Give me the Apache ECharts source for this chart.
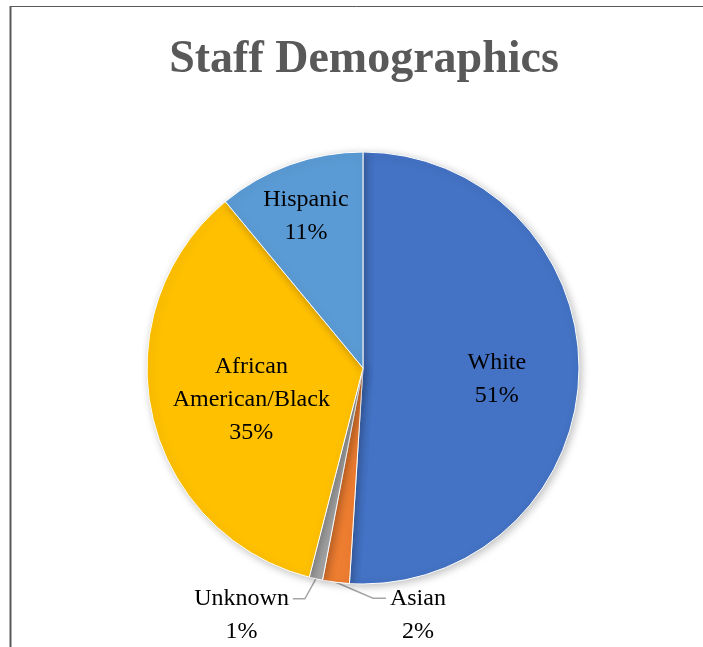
<!DOCTYPE html>
<html>
<head>
<meta charset="utf-8">
<script src="https://cdn.jsdelivr.net/npm/echarts@6/dist/echarts.min.js"></script>
<style>
  html, body { margin: 0; padding: 0; background: #fff; }
  #main { width: 703px; height: 647px; }
</style>
</head>
<body>
<div id="main"></div>
<script>
// chart data
const categories = ['White', 'Asian', 'Unknown', 'African American/Black', 'Hispanic']
const labelNames = ['White', 'Asian', 'Unknown', 'African\nAmerican/Black', 'Hispanic']
const values = [51, 2, 1, 35, 11]
const colors = ['#4472C4', '#ED7D31', '#A5A5A5', '#FFC000', '#5B9BD5']

// where each label sits: k = fraction of radius (inside), else leader line offsets (outside)
const labelPlace = [
  { k: 0.62 },
  { bend: [37, 16], h: 13 },
  { bend: [-11, 20], h: -12 },
  { k: 0.53 },
  { k: 0.78 }
]
const labelFont = 'Liberation Serif'
const labelSize = 24
const labelLH = 33

const chart = echarts.init(document.getElementById('main'))

function placeLabel(params) {
  const i = params.dataIndex
  const lay = chart.getModel().getSeriesByIndex(0).getData().getItemLayout(i)
  const mid = (lay.startAngle + lay.endAngle) / 2
  const p = labelPlace[i]
  if (p.k) {
    return {
      x: lay.cx + p.k * lay.r * Math.cos(mid),
      y: lay.cy + p.k * lay.r * Math.sin(mid) + 7,
      align: 'center',
      verticalAlign: 'middle'
    }
  }
  const edge = [lay.cx + lay.r * Math.cos(mid), lay.cy + lay.r * Math.sin(mid)]
  const bend = [edge[0] + p.bend[0], edge[1] + p.bend[1]]
  const end = [bend[0] + p.h, bend[1]]
  const w = params.labelRect.width
  const side = p.h < 0 ? -1 : 1
  return {
    x: end[0] + side * (4 + w / 2),
    y: bend[1] - labelLH / 2,
    align: 'center',
    verticalAlign: 'top',
    labelLinePoints: [edge, bend, end]
  }
}

chart.setOption({
  animation: false,
  title: {
    text: 'Staff Demographics',
    left: 359,
    textAlign: 'center',
    top: 32,
    textStyle: {
      fontFamily: 'Liberation Serif',
      fontSize: 46,
      fontWeight: 'bold',
      color: '#595959'
    }
  },
  graphic: [
    { type: 'line', shape: { x1: 10.5, y1: 6, x2: 10.5, y2: 647 }, style: { stroke: '#595959', lineWidth: 2 } },
    { type: 'line', shape: { x1: 10, y1: 6.5, x2: 703, y2: 6.5 }, style: { stroke: '#595959', lineWidth: 1 } }
  ],
  series: [
    {
      type: 'pie',
      center: [363, 368],
      radius: 216,
      startAngle: 90,
      clockwise: true,
      avoidLabelOverlap: false,
      itemStyle: {
        borderColor: '#fff',
        borderWidth: 1,
        shadowBlur: 8,
        shadowOffsetX: 2,
        shadowOffsetY: 2,
        shadowColor: 'rgba(0,0,0,0.25)'
      },
      label: {
        fontFamily: labelFont,
        fontSize: labelSize,
        lineHeight: labelLH,
        color: '#000',
        formatter: function (p) {
          const lines = (labelNames[p.dataIndex] + '\n' + Math.round(p.percent) + '%').split('\n')
          return lines.map(s => '{c|' + s + '}').join('\n')
        },
        rich: {
          c: { align: 'center', fontFamily: labelFont, fontSize: labelSize, lineHeight: labelLH, color: '#000' }
        }
      },
      labelLine: {
        lineStyle: { color: '#A6A6A6', width: 1.5 }
      },
      labelLayout: placeLabel,
      data: categories.map((name, i) => ({
        name: name,
        value: values[i],
        itemStyle: { color: colors[i] },
        label: { position: labelPlace[i].k ? 'inside' : 'outside' },
        labelLine: { show: !labelPlace[i].k }
      }))
    }
  ]
})
</script>
</body>
</html>
